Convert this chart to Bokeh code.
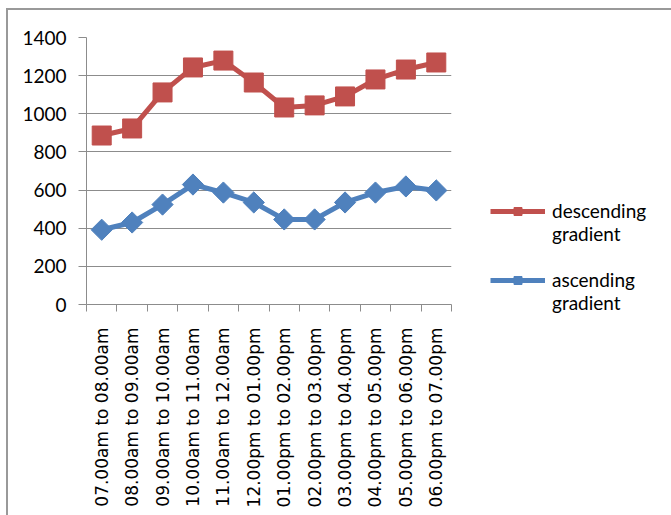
import math
from bokeh.plotting import figure
from bokeh.models import (FixedTicker, Legend, LegendItem, Range1d)
from bokeh.embed import file_html
from bokeh.resources import INLINE

# Hourly time slots
slots = [
    "07.00am to 08.00am", "08.00am to 09.00am", "09.00am to 10.00am",
    "10.00am to 11.00am", "11.00am to 12.00am", "12.00pm to 01.00pm",
    "01.00pm to 02.00pm", "02.00pm to 03.00pm", "03.00pm to 04.00pm",
    "04.00pm to 05.00pm", "05.00pm to 06.00pm", "06.00pm to 07.00pm",
]
descending = [886, 923, 1112, 1243, 1279, 1164, 1033, 1044, 1091, 1180, 1232, 1269]
ascending = [392, 430, 524, 629, 587, 535, 446, 446, 535, 587, 619, 598]
y_ticks = [0, 200, 400, 600, 800, 1000, 1200, 1400]

RED = "#C0504D"
BLUE = "#4F81BD"
GRID = "#8C8C8C"

xs = [i + 0.5 for i in range(len(slots))]

p = figure(
    width=663, height=505,
    x_range=Range1d(0, len(slots)), y_range=Range1d(0, 1400),
    output_backend="svg", toolbar_location=None,
    min_border_left=78, min_border_right=0,
    min_border_top=27, min_border_bottom=211,
)
p.margin = (8, 0, 0, 6)
p.styles = {"border-top": "2px solid #999999", "border-left": "2px solid #999999"}
p.outline_line_color = None
p.background_fill_color = "white"
p.border_fill_color = "white"

# Axes
p.yaxis.ticker = FixedTicker(ticks=y_ticks)
p.yaxis.axis_line_color = GRID
p.yaxis.major_tick_line_color = GRID
p.yaxis.major_tick_out = 8
p.yaxis.major_tick_in = 0
p.yaxis.minor_tick_line_color = None
p.yaxis.major_label_standoff = 12
p.yaxis.major_label_text_font = "Lato"
p.yaxis.major_label_text_font_size = "19px"
p.yaxis.major_label_text_color = "black"

p.xaxis.ticker = FixedTicker(ticks=xs, minor_ticks=list(range(len(slots) + 1)))
p.xaxis.major_label_overrides = {x: s for x, s in zip(xs, slots)}
p.xaxis.major_label_orientation = math.pi / 2
p.xaxis.axis_line_color = GRID
p.xaxis.major_tick_line_color = None
p.xaxis.major_tick_out = 0
p.xaxis.major_tick_in = 0
p.xaxis.minor_tick_line_color = GRID
p.xaxis.minor_tick_out = 7
p.xaxis.minor_tick_in = 0
p.xaxis.major_label_standoff = 16
p.xaxis.major_label_text_font = "DejaVu Sans"
p.xaxis.major_label_text_font_size = "17px"
p.xaxis.major_label_text_color = "black"

p.xgrid.grid_line_color = None
p.ygrid.ticker = FixedTicker(ticks=y_ticks)
p.ygrid.grid_line_color = GRID
p.ygrid.grid_line_width = 1

# Series
r_line = p.line(xs, descending, line_color=RED, line_width=5)
r_mark = p.scatter(xs, descending, marker="square", size=19, fill_color=RED, line_color=RED)
b_line = p.line(xs, ascending, line_color=BLUE, line_width=5)
b_mark = p.scatter(xs, ascending, marker="square", angle=math.pi / 4, size=15,
                   fill_color=BLUE, line_color=BLUE)

# Leading blank line keeps each legend glyph level with the first text line
legend = Legend(
    items=[
        LegendItem(label="\ndescending\ngradient", renderers=[r_line, r_mark]),
        LegendItem(label="\nascending\ngradient", renderers=[b_line, b_mark]),
    ],
    location=(39, -10),
    orientation="vertical",
    glyph_width=55, glyph_height=20,
    label_standoff=7, spacing=-26,
    padding=0, margin=0,
    border_line_color=None, background_fill_alpha=0,
    label_text_font="Lato", label_text_font_size="19px",
    label_text_line_height=1.6,
    label_text_color="black",
)
p.add_layout(legend, "right")
p.frame_width = 365
p.frame_height = 267

open("out.html", "w").write(file_html(p, INLINE))
